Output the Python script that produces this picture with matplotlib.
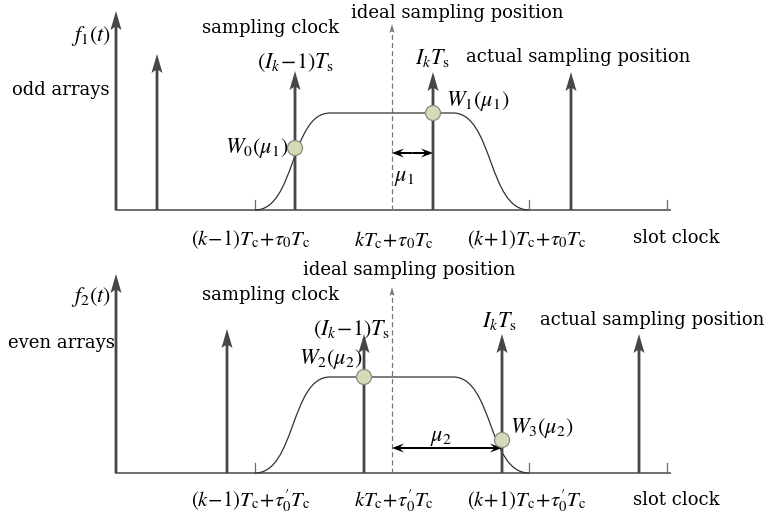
"""Schematic of odd / even array sampling positions vs slot clock."""
import matplotlib
matplotlib.use("Agg")
import matplotlib.pyplot as plt
from matplotlib.path import Path
from matplotlib.patches import PathPatch, Circle

plt.rcParams["font.family"] = "DejaVu Serif"
plt.rcParams["mathtext.fontset"] = "stix"

# panel geometry is in picture pixels (x right, y down)
PANEL_BASE = [210, 473]          # baseline y for top / bottom panel
AXIS_X = [116, 670]
# impulse arrows: x position, tip y
ARROWS_X = [[116, 157, 295, 433, 571], [116, 227, 364, 502, 639]]
ARROWS_TIP = [[11, 54, 71, 72, 72], [274, 329, 334, 334, 334]]
IDEAL_X = 392
IDEAL_TIP = [24, 287]
TICKS_X = [255, 529, 667]
PLATEAU_Y = [113, 377]
RISE = [255, 330]
FALL = [453, 529]
CIRCLES = [[(295, 148), (433, 113)], [(364, 377), (502, 440)]]
MU_ARROW = [(392, 433, 153), (392, 502, 448)]

DARK = "#474747"
GRAY = "#6e6e6e"

fig = plt.figure(figsize=(7.68, 5.17), dpi=100)
ax = fig.add_axes([0, 0, 1, 1])
ax.set_xlim(0, 768)
ax.set_ylim(517, 0)
ax.axis("off")

for p in range(2):
    base = PANEL_BASE[p]
    ax.plot(AXIS_X, [base, base], color=GRAY, lw=1.4, zorder=2)
    for tx in TICKS_X:
        ax.plot([tx, tx], [base, base - 10], color=GRAY, lw=0.9, zorder=2)
    # dashed ideal sampling line
    ax.plot([IDEAL_X, IDEAL_X], [base, IDEAL_TIP[p] + 6], color="#777777",
            lw=0.9, ls=(0, (4, 2.5)), zorder=2)
    ax.arrow(IDEAL_X, IDEAL_TIP[p] + 8, 0, -8, width=0.3, head_width=5,
             head_length=9, length_includes_head=True, overhang=0.2,
             color="#777777", lw=0)
    for x, tip in zip(ARROWS_X[p], ARROWS_TIP[p]):
        ax.arrow(x, base, 0, tip - base, width=2.8, head_width=11, head_length=19,
                 length_includes_head=True, overhang=0.15, color=DARK, lw=0, zorder=3)
    # raised-cosine window
    top = PLATEAU_Y[p]
    r0, r1 = RISE
    f0, f1 = FALL
    verts = [(r0, base), ((r0 + r1) / 2 + 3, base), ((r0 + r1) / 2 - 2, top), (r1, top),
             (f0, top), ((f0 + f1) / 2 + 2, top), ((f0 + f1) / 2 - 3, base), (f1, base)]
    codes = [Path.MOVETO, Path.CURVE4, Path.CURVE4, Path.CURVE4,
             Path.LINETO, Path.CURVE4, Path.CURVE4, Path.CURVE4]
    ax.add_patch(PathPatch(Path(verts, codes), fill=False, ec="#333333", lw=0.9, zorder=2))
    for cx, cy in CIRCLES[p]:
        ax.add_patch(Circle((cx, cy), 7.5, fc="#d3dbb8", ec="#8a8a80", lw=0.9, zorder=5))
    x0, x1, y = MU_ARROW[p]
    mid = (x0 + x1) / 2
    for end in (x0, x1):
        ax.arrow(mid, y, end - mid, 0, width=2.0, head_width=9, head_length=12,
                 length_includes_head=True, overhang=0.3, color="black", lw=0, zorder=4)

TXT = dict(fontsize=13)
MTH = dict(fontsize=16)
LAB = dict(fontsize=15)

# top panel labels
ax.text(111, 36, r"$f_1(t)$", ha="right", va="center", **MTH)
ax.text(12, 90, "odd arrays", ha="left", va="center", **TXT)
ax.text(271, 28, "sampling clock", ha="center", va="center", **TXT)
ax.text(457, 13, "ideal sampling position", ha="center", va="center", **TXT)
ax.text(296, 63, r"$(I_k\!-\!1)T_\mathrm{s}$", ha="center", va="center", **MTH)
ax.text(433, 58, r"$I_kT_\mathrm{s}$", ha="center", va="center", **MTH)
ax.text(578, 57, "actual sampling position", ha="center", va="center", **TXT)
ax.text(288, 148, r"$W_0(\mu_1)$", ha="right", va="center", **MTH)
ax.text(446, 101, r"$W_1(\mu_1)$", ha="left", va="center", **MTH)
ax.text(404, 177, r"$\mu_1$", ha="center", va="center", **MTH)
ax.text(251, 240, r"$(k\!-\!1)T_\mathrm{c}\!+\!\tau_0T_\mathrm{c}$", ha="center", va="center", **LAB)
ax.text(394, 240, r"$kT_\mathrm{c}\!+\!\tau_0T_\mathrm{c}$", ha="center", va="center", **LAB)
ax.text(527, 240, r"$(k\!+\!1)T_\mathrm{c}\!+\!\tau_0T_\mathrm{c}$", ha="center", va="center", **LAB)
ax.text(676, 238, "slot clock", ha="center", va="center", **TXT)

# bottom panel labels
ax.text(111, 297, r"$f_2(t)$", ha="right", va="center", **MTH)
ax.text(8, 343, "even arrays", ha="left", va="center", **TXT)
ax.text(271, 295, "sampling clock", ha="center", va="center", **TXT)
ax.text(409, 270, "ideal sampling position", ha="center", va="center", **TXT)
ax.text(352, 330, r"$(I_k\!-\!1)T_\mathrm{s}$", ha="center", va="center", **MTH)
ax.text(500, 321, r"$I_kT_\mathrm{s}$", ha="center", va="center", **MTH)
ax.text(652, 320, "actual sampling position", ha="center", va="center", **TXT)
ax.text(331, 359, r"$W_2(\mu_2)$", ha="center", va="center", **MTH)
ax.text(510, 428, r"$W_3(\mu_2)$", ha="left", va="center", **MTH)
ax.text(441, 437, r"$\mu_2$", ha="center", va="center", **MTH)
ax.text(251, 501, r"$(k\!-\!1)T_\mathrm{c}\!+\!\tau^{\prime}_{0}T_\mathrm{c}$", ha="center", va="center", **LAB)
ax.text(394, 501, r"$kT_\mathrm{c}\!+\!\tau^{\prime}_{0}T_\mathrm{c}$", ha="center", va="center", **LAB)
ax.text(527, 501, r"$(k\!+\!1)T_\mathrm{c}\!+\!\tau^{\prime}_{0}T_\mathrm{c}$", ha="center", va="center", **LAB)
ax.text(676, 500, "slot clock", ha="center", va="center", **TXT)

fig.savefig("out.png", dpi=100)
